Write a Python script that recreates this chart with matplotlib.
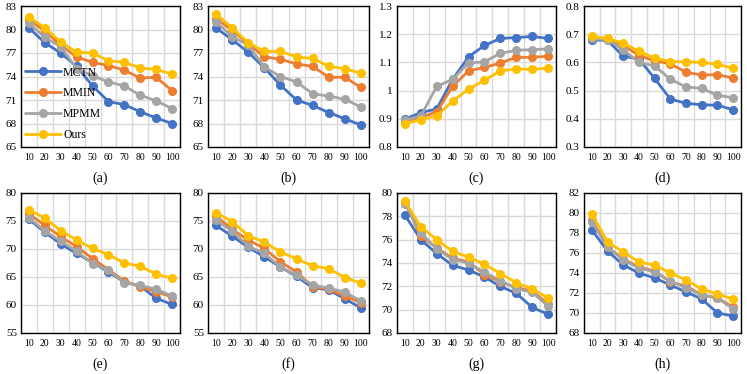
import numpy as np
import matplotlib
matplotlib.use("Agg")
import matplotlib.pyplot as plt

plt.rcParams['font.family'] = ['Liberation Serif', 'DejaVu Serif']

# ratios (x categories)
ratios = ["10", "20", "30", "40", "50", "60", "70", "80", "90", "100"]
methods = ["MCTN", "MMIN", "MPMM", "Ours"]
colors = ["#4472C4", "#ED7D31", "#A5A5A5", "#FFC000"]

# values per panel, order: MCTN, MMIN, MPMM, Ours
panel_a = [
    [80.2, 78.3, 77.0, 75.3, 72.8, 70.8, 70.4, 69.5, 68.7, 68.0],
    [81.2, 79.8, 78.0, 76.5, 75.8, 75.4, 74.8, 73.8, 73.9, 72.2],
    [80.8, 79.0, 77.8, 75.0, 74.1, 73.3, 72.8, 71.6, 70.9, 69.9],
    [81.6, 80.2, 78.4, 77.1, 77.0, 76.0, 75.8, 75.1, 74.9, 74.3],
]
panel_b = [
    [80.2, 78.7, 77.1, 75.1, 72.9, 71.0, 70.3, 69.4, 68.6, 67.8],
    [81.4, 79.9, 78.2, 76.5, 76.2, 75.6, 75.3, 73.9, 73.9, 72.6],
    [81.0, 79.1, 78.0, 75.2, 74.0, 73.3, 71.8, 71.5, 71.1, 70.1],
    [82.0, 80.2, 78.3, 77.2, 77.2, 76.5, 76.3, 75.3, 75.0, 74.4],
]
panel_c = [
    [0.899, 0.922, 0.935, 1.040, 1.120, 1.160, 1.185, 1.188, 1.192, 1.185],
    [0.890, 0.905, 0.925, 1.015, 1.070, 1.082, 1.098, 1.118, 1.118, 1.122],
    [0.895, 0.910, 1.015, 1.040, 1.098, 1.102, 1.132, 1.143, 1.145, 1.148],
    [0.882, 0.897, 0.910, 0.963, 1.005, 1.037, 1.070, 1.077, 1.075, 1.080],
]
panel_d = [
    [0.680, 0.678, 0.622, 0.612, 0.543, 0.470, 0.455, 0.450, 0.448, 0.432],
    [0.688, 0.682, 0.660, 0.625, 0.605, 0.595, 0.565, 0.555, 0.557, 0.544],
    [0.685, 0.680, 0.645, 0.600, 0.588, 0.540, 0.513, 0.508, 0.483, 0.475],
    [0.692, 0.685, 0.668, 0.640, 0.615, 0.603, 0.602, 0.600, 0.593, 0.580],
]
panel_e = [
    [75.3, 73.0, 70.9, 69.2, 67.6, 65.9, 64.1, 63.4, 61.2, 60.1],
    [76.3, 74.2, 72.2, 70.4, 68.3, 66.3, 64.3, 63.2, 62.4, 61.4],
    [75.6, 73.2, 71.4, 69.6, 67.4, 66.2, 64.0, 63.5, 62.8, 61.6],
    [77.0, 75.5, 73.3, 71.6, 70.1, 69.0, 67.5, 66.9, 65.5, 64.8],
]
panel_f = [
    [74.2, 72.3, 70.3, 68.6, 66.8, 65.1, 63.1, 62.7, 61.1, 59.5],
    [75.9, 73.5, 71.6, 70.1, 67.7, 65.9, 63.3, 62.8, 61.6, 60.4],
    [75.1, 73.2, 70.5, 69.2, 66.8, 65.3, 63.6, 63.0, 62.3, 60.7],
    [76.5, 74.9, 72.4, 71.2, 69.5, 68.2, 67.0, 66.5, 64.9, 63.9],
]
panel_g = [
    [78.1, 76.0, 74.8, 73.8, 73.4, 72.8, 72.0, 71.4, 70.2, 69.6],
    [79.2, 76.3, 75.3, 74.4, 74.1, 73.0, 72.4, 71.9, 71.6, 70.5],
    [79.1, 76.6, 75.2, 74.3, 74.0, 73.2, 72.5, 71.8, 71.5, 70.3],
    [79.3, 77.1, 76.0, 75.0, 74.5, 73.9, 73.1, 72.3, 71.8, 71.0],
]
panel_h = [
    [78.3, 76.2, 74.8, 74.0, 73.5, 72.8, 72.1, 71.4, 70.0, 69.7],
    [79.3, 76.6, 75.4, 74.6, 74.2, 73.1, 72.7, 71.8, 71.5, 70.6],
    [79.1, 76.6, 75.3, 74.5, 74.1, 73.2, 72.5, 71.8, 71.5, 70.4],
    [79.9, 77.1, 76.1, 75.1, 74.8, 74.0, 73.3, 72.4, 71.9, 71.4],
]

panels = [panel_a, panel_b, panel_c, panel_d, panel_e, panel_f, panel_g, panel_h]
captions = ["(a)", "(b)", "(c)", "(d)", "(e)", "(f)", "(g)", "(h)"]
yticks = [
    [65, 68, 71, 74, 77, 80, 83],
    [65, 68, 71, 74, 77, 80, 83],
    [0.8, 0.9, 1.0, 1.1, 1.2, 1.3],
    [0.3, 0.4, 0.5, 0.6, 0.7, 0.8],
    [55, 60, 65, 70, 75, 80],
    [55, 60, 65, 70, 75, 80],
    [68, 70, 72, 74, 76, 78, 80],
    [68, 70, 72, 74, 76, 78, 80, 82],
]
ytick_labels = [
    None, None,
    ["0.8", "0.9", "1", "1.1", "1.2", "1.3"],
    ["0.3", "0.4", "0.5", "0.6", "0.7", "0.8"],
    None, None, None, None,
]

W, H = 747, 374
fig = plt.figure(figsize=(W / 100, H / 100), dpi=100)

# axes boxes in pixels
lefts = [21, 208, 397, 584]
rights = [180, 369, 556, 741]
tops = [6, 193]
bottoms = [147, 333]
caption_y = [178, 364]

x = np.arange(len(ratios))
for i, data in enumerate(panels):
    r, c = divmod(i, 4)
    l, rt = lefts[c], rights[c]
    t, b = tops[r], bottoms[r]
    ax = fig.add_axes([l / W, 1 - b / H, (rt - l) / W, (b - t) / H])
    for vals, name, col in zip(data, methods, colors):
        ax.plot(x, vals, color=col, lw=2.0, marker="o", ms=5.5, label=name,
                solid_capstyle="round", zorder=3)
    ax.set_xlim(-0.5, len(ratios) - 0.5)
    ax.set_xticks(x)
    ax.set_xticklabels(ratios, fontsize=7)
    ax.set_xticks(np.arange(-0.5, len(ratios), 1.0), minor=True)
    ax.set_yticks(yticks[i])
    ax.set_ylim(yticks[i][0], yticks[i][-1])
    if ytick_labels[i] is not None:
        ax.set_yticklabels(ytick_labels[i])
    ax.tick_params(axis="y", labelsize=8, length=0, pad=3)
    ax.tick_params(axis="x", which="both", length=0, pad=4)
    ax.grid(True, axis="y", which="major", color="#D9D9D9", lw=1.0)
    ax.grid(True, axis="x", which="minor", color="#D9D9D9", lw=1.0)
    ax.grid(False, axis="x", which="major")
    for s in ax.spines.values():
        s.set_color("black")
        s.set_linewidth(1.0)
    ax.set_axisbelow(True)
    fig.text((l + rt) / 2 / W, 1 - caption_y[r] / H, captions[i],
             ha="center", va="center", fontsize=10)
    if i == 0:
        ax.legend(loc="lower left", frameon=False, fontsize=8.5,
                  handlelength=3.0, handletextpad=0.2, labelspacing=0.75,
                  borderaxespad=0.1, bbox_to_anchor=(-0.01, 0.0))

fig.savefig("out.png", dpi=100)
